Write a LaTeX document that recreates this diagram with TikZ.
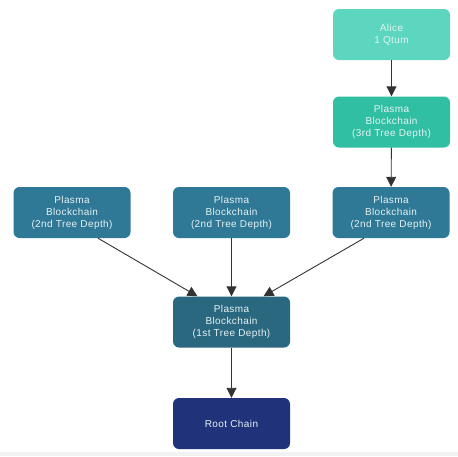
\documentclass[tikz,border=0pt]{standalone}
\usepackage{fontspec}
\setmainfont{Liberation Sans}[LetterSpace=4]
\usetikzlibrary{arrows.meta}
\definecolor{cAlice}{HTML}{5CD6BE}
\definecolor{cThird}{HTML}{31BFA4}
\definecolor{cSecond}{HTML}{2F7896}
\definecolor{cFirst}{HTML}{2A6880}
\definecolor{cRoot}{HTML}{1F327A}
\definecolor{cArrow}{HTML}{333333}
\definecolor{cText}{HTML}{E6F2F4}
\begin{document}
\begin{tikzpicture}[x=1pt,y=-1pt,
  box/.style={rounded corners=6pt, minimum width=117pt, minimum height=51pt,
    text=cText, font=\fontsize{10}{12}\selectfont, align=center, inner sep=0pt},
  conn/.style={draw=cArrow, line width=0.9pt, -{Triangle[length=10pt,width=10pt]}}]
\useasboundingbox (0,0) rectangle (458,456);
\fill[white] (0,0) rectangle (458,456);
\fill[black!5] (0,452) rectangle (458,456);
\node[box, fill=cAlice] (alice) at (391.5,34.5) {Alice\\1 Qtum};
\node[box, fill=cThird] (third) at (391.5,122) {Plasma\\Blockchain\\(3rd Tree Depth)};
\node[box, fill=cSecond] (secL) at (72,212.5) {Plasma\\Blockchain\\(2nd Tree Depth)};
\node[box, fill=cSecond] (secM) at (231.5,212.5) {Plasma\\Blockchain\\(2nd Tree Depth)};
\node[box, fill=cSecond] (secR) at (391,212.5) {Plasma\\Blockchain\\(2nd Tree Depth)};
\node[box, fill=cFirst] (first) at (231.5,322) {Plasma\\Blockchain\\(1st Tree Depth)};
\node[box, fill=cRoot] (root) at (231.5,423.5) {Root Chain};
\draw[conn] (alice) -- (third);
\draw[conn] (third) -- (secR);
\draw[conn] ([xshift=26pt]secL.south) -- ([xshift=-34pt]first.north);
\draw[conn] (secM) -- (first);
\draw[conn] ([xshift=-27pt]secR.south) -- ([xshift=32pt]first.north);
\draw[conn] (first) -- (root);
\end{tikzpicture}
\end{document}
